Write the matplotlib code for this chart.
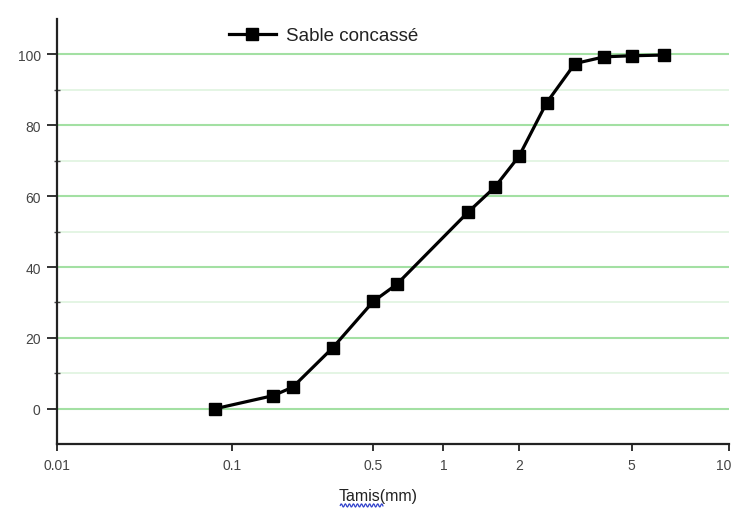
import matplotlib.pyplot as plt
import matplotlib.transforms as mtransforms
import numpy as np
from matplotlib.ticker import FixedLocator, NullLocator

# sieve openings (mm) and cumulative passing (%)
sieves = [0.08, 0.16, 0.2, 0.315, 0.5, 0.63, 1.25, 1.6, 2, 2.5, 3.15, 4, 5, 6.3]
passing = [0, 3.7, 6.1, 17.2, 30.3, 35.1, 55.4, 62.5, 71.3, 86.3, 97.4, 99.3, 99.6, 99.8]

xticks = [0.01, 0.1, 0.5, 1, 2, 5, 10]
xticklabels = ['0.01', '0.1', '0.5', '1', '2', '5', '10']
yticks = [0, 20, 40, 60, 80, 100]

# piecewise log axis: where each labelled sieve sits along the axis (0..1)
tick_frac = [0.0, 0.2596, 0.4704, 0.5747, 0.6874, 0.8551, 1.0]
log_ticks = np.log10(xticks)


def forward(x):
    x = np.clip(np.asarray(x, dtype=float), 1e-9, None)
    return np.interp(np.log10(x), log_ticks, tick_frac)


def inverse(f):
    return 10 ** np.interp(f, tick_frac, log_ticks)


plt.rcParams['font.family'] = ['Liberation Sans', 'DejaVu Sans']

fig = plt.figure(figsize=(7.35, 5.1), dpi=100)
ax = fig.add_axes([0.078, 0.127, 0.914, 0.834])

ax.set_xscale('function', functions=(forward, inverse))
ax.set_xlim(0.01, 10)
ax.set_ylim(-10, 110)

ax.plot(sieves, passing, color='black', lw=2.3, marker='s', ms=8.5,
        label='Sable concassé', zorder=3)

ax.xaxis.set_major_locator(FixedLocator(xticks))
ax.xaxis.set_minor_locator(NullLocator())
ax.set_xticklabels(xticklabels)
ax.yaxis.set_major_locator(FixedLocator(yticks))
ax.yaxis.set_minor_locator(FixedLocator([10, 30, 50, 70, 90]))

ax.grid(axis='y', which='major', color='#a3e0a3', lw=1.5)
ax.grid(axis='y', which='minor', color='#dff3df', lw=1.2)
ax.set_axisbelow(True)

for side in ['top', 'right']:
    ax.spines[side].set_visible(False)
for side in ['left', 'bottom']:
    ax.spines[side].set_color('#222222')
    ax.spines[side].set_linewidth(1.6)

ax.tick_params(axis='y', which='major', direction='out', length=7, width=1.3,
               color='#222222', pad=5, labelsize=10, labelcolor='#444444')
ax.tick_params(axis='y', which='minor', direction='inout', length=4, width=1.0,
               color='#444444')
ax.tick_params(axis='x', which='major', direction='out', length=5, width=1.3,
               color='#222222', pad=5, labelsize=10, labelcolor='#444444')

# nudge the last label so it stays inside the figure
last = ax.get_xticklabels()[-1]
last.set_transform(last.get_transform() +
                   mtransforms.ScaledTranslation(-5 / 100, 0, fig.dpi_scale_trans))

# axis title sits left of centre, with the blue squiggle under "Tamis"
fig.text(0.461, 0.026, 'Tamis(mm)', fontsize=11.5, color='#222222',
         ha='left', va='center')
sx = np.linspace(0.463, 0.521, 60)
sy = 0.007 + 0.0032 * np.sin((sx - sx[0]) * 2 * np.pi / 0.0055)
fig.add_artist(plt.Line2D(sx, sy, color='#3344cc', lw=0.9))

ax.legend(loc='upper left', bbox_to_anchor=(0.23, 1.02), frameon=False,
          fontsize=13.5, handlelength=2.5, handletextpad=0.55,
          labelcolor='#222222')

fig.savefig('out.png', dpi=100)
